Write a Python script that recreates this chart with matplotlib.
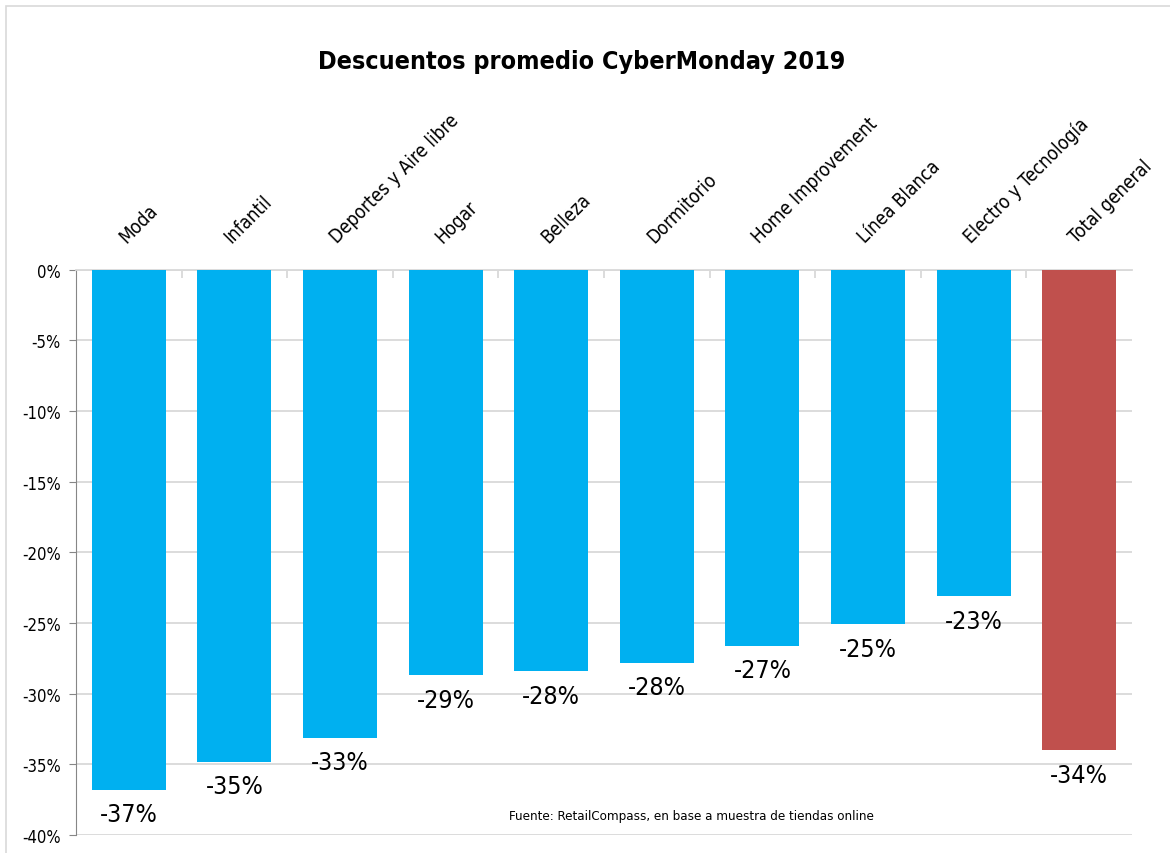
import matplotlib
matplotlib.use("Agg")
import matplotlib.pyplot as plt
from matplotlib.patches import Rectangle

# datos
categorias = ["Moda", "Infantil", "Deportes y Aire libre", "Hogar", "Belleza",
              "Dormitorio", "Home Improvement", "Línea Blanca",
              "Electro y Tecnología", "Total general"]
descuentos = [-36.8, -34.8, -33.1, -28.7, -28.4, -27.8, -26.6, -25.1, -23.1, -34.0]
colores = ["#00B0F0"] * 9 + ["#C0504D"]
y_ticks = [0, -5, -10, -15, -20, -25, -30, -35, -40]

# fuente angosta parecida a la del original
plt.rcParams['font.family'] = ['DejaVu Sans']
plt.rcParams['font.stretch'] = 'condensed'

fig = plt.figure(figsize=(11.7, 8.54), dpi=100)
ax = fig.add_axes([0.065, 0.021, 0.9025, 0.662])

x = range(len(categorias))
bars = ax.bar(x, descuentos, width=0.70, color=colores, zorder=3)

for i, v in enumerate(descuentos):
    ax.annotate(f"{round(v):d}%", (i, v), xytext=(0, -9), textcoords="offset points",
                ha="center", va="top", fontsize=18, color="black")

ax.set_xlim(-0.5, len(categorias) - 0.5)
ax.set_ylim(-40, 0)
ax.set_yticks(y_ticks)
ax.set_yticklabels([f"{t}%" for t in y_ticks], fontsize=12)
ax.tick_params(axis="y", length=5, color="#868686", pad=6)
ax.grid(axis="y", color="#D9D9D9", linewidth=1.3, zorder=0)

# etiquetas de categorias arriba, giradas
ax.xaxis.tick_top()
ax.set_xticks(list(x))
ax.set_xticklabels(categorias, rotation=45, ha="left", va="bottom",
                   rotation_mode="anchor", fontsize=13.5)
ax.tick_params(axis="x", which="major", length=0, pad=17)
ax.set_xticks([i + 0.5 for i in range(len(categorias) - 1)], minor=True)
ax.tick_params(axis="x", which="minor", top=True, bottom=False, direction="in",
               length=6, color="#D9D9D9", width=1.3)

for s in ["right", "bottom"]:
    ax.spines[s].set_visible(False)
ax.spines["top"].set_color("#D9D9D9")
ax.spines["top"].set_linewidth(1.3)
ax.spines["left"].set_color("#868686")

fig.text(0.497, 0.927, "Descuentos promedio CyberMonday 2019", ha="center", va="center",
         fontsize=18, fontweight="bold")
fig.text(691 / 1170, 1 - 817 / 854, "Fuente: RetailCompass, en base a muestra de tiendas online",
         ha="center", va="center", fontsize=9.5)

# borde del area del grafico
fig.patches.append(Rectangle((6 / 1170, -0.01), 1.0, 1 - 7 / 854 + 0.01, transform=fig.transFigure,
                             fill=False, edgecolor="#D9D9D9", linewidth=1.2))

fig.savefig("out.png", dpi=100)
